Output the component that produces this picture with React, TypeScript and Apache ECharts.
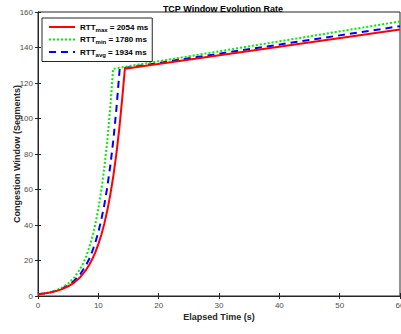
import React, { useEffect, useRef } from "react";
import * as echarts from "echarts";

const seriesNames = ["max", "min", "avg"];
const rttValues = ["2054", "1780", "1934"];
const colors = ["#ff0000", "#00ee00", "#0000ff"];

// [time (s), cwnd (segments)]
const rttMax: number[][] = [
  [0, 1], [1, 1.4], [2, 1.96], [3, 2.75], [4, 3.86], [5, 5.41], [6, 7.57], [7, 10.6],
  [8, 14.9], [8.5, 17.6], [9, 20.8], [9.5, 24.6], [10, 29.2], [10.5, 34.5], [11, 40.9],
  [11.5, 48.4], [12, 57.4], [12.5, 67.9], [13, 80.4], [13.5, 95.2], [14, 112.7],
  [14.4, 128], [60, 150.2],
];
const rttMin: number[][] = [
  [0, 1], [1, 1.48], [2, 2.18], [3, 3.22], [4, 4.75], [5, 7.01], [6, 10.35], [7, 15.3],
  [7.5, 18.6], [8, 22.5], [8.5, 27.4], [9, 33.3], [9.5, 40.4], [10, 49.1], [10.5, 59.7],
  [11, 72.5], [11.5, 88.1], [12, 107], [12.45, 128], [60, 154.7],
];
const rttAvg: number[][] = [
  [0, 1], [1, 1.43], [2, 2.05], [3, 2.93], [4, 4.19], [5, 6.0], [6, 8.59], [7, 12.3],
  [8, 17.6], [8.5, 21.0], [9, 25.2], [9.5, 30.1], [10, 36.0], [10.5, 43.1], [11, 51.5],
  [11.5, 61.7], [12, 73.8], [12.5, 88.2], [13, 105.6], [13.54, 128], [60, 152],
];
const allData = [rttMax, rttMin, rttAvg];
const lineTypes: any[] = ["solid", "dotted", [7, 5]];

const FONT = "Liberation Sans, Arial, Helvetica, sans-serif";

export default function App() {
  const ref = useRef<HTMLDivElement>(null);
  useEffect(() => {
    if (!ref.current) return;
    const chart = echarts.init(ref.current, undefined, { renderer: "svg" });
    const axisLine = { show: true, lineStyle: { color: "#262626", width: 1 } };
    const option: any = {
      animation: false,
      backgroundColor: "#ffffff",
      title: {
        text: "TCP Window Evolution Rate",
        left: 218,
        textAlign: "center",
        top: -1,
        textStyle: { fontFamily: FONT, fontWeight: "bold", fontSize: 9, color: "#000" },
      },
      grid: {
        left: 38,
        right: 1,
        top: 12,
        bottom: 38,
        outerBoundsMode: "none",
        containLabel: false,
        show: true,
        borderColor: "#262626",
        borderWidth: 1,
        backgroundColor: "transparent",
      },
      legend: {
        orient: "vertical",
        left: 42,
        top: 18,
        padding: [5, 4, 4, 6],
        itemWidth: 26,
        itemHeight: 10,
        itemGap: 3,
        backgroundColor: "#fff",
        borderColor: "#262626",
        borderWidth: 1,
        borderRadius: 0,
        itemStyle: { opacity: 0 },
        data: seriesNames,
        formatter: (name: string) => {
          const i = seriesNames.indexOf(name);
          return `{b|RTT}{s|${name}}{b| = ${rttValues[i]} ms}`;
        },
        textStyle: {
          fontFamily: FONT,
          rich: {
            b: { fontFamily: FONT, fontWeight: "bold", fontSize: 8, color: "#000" },
            s: { fontFamily: FONT, fontWeight: "bold", fontSize: 6, color: "#000", verticalAlign: "bottom", padding: [5, 0, 0, 0] },
          },
        },
      },
      xAxis: [
        {
          type: "value",
          min: 0,
          max: 60,
          interval: 10,
          name: "Elapsed Time (s)",
          nameLocation: "middle",
          nameGap: 16,
          nameMoveOverlap: false,
          nameTextStyle: { fontFamily: FONT, fontWeight: "bold", fontSize: 9, color: "#262626" },
          axisLine,
          axisTick: { show: true, inside: true, length: 3, lineStyle: { color: "#262626" } },
          axisLabel: { fontFamily: FONT, fontSize: 8, color: "#4d4d4d", margin: 5 },
          splitLine: { show: false },
        },
        {
          type: "value",
          position: "top",
          min: 0,
          max: 60,
          interval: 10,
          axisLine,
          axisTick: { show: true, inside: true, length: 3, lineStyle: { color: "#262626" } },
          axisLabel: { show: false },
          splitLine: { show: false },
        },
      ],
      yAxis: [
        {
          type: "value",
          min: 0,
          max: 160,
          interval: 20,
          name: "Congestion Window (Segments)",
          nameLocation: "middle",
          nameGap: 17,
          nameMoveOverlap: false,
          nameTextStyle: { fontFamily: FONT, fontWeight: "bold", fontSize: 9, color: "#262626" },
          axisLine,
          axisTick: { show: true, inside: true, length: 3, lineStyle: { color: "#262626" } },
          axisLabel: { fontFamily: FONT, fontSize: 8, color: "#4d4d4d", margin: 5 },
          splitLine: { show: false },
        },
        {
          type: "value",
          position: "right",
          min: 0,
          max: 160,
          interval: 20,
          axisLine,
          axisTick: { show: true, inside: true, length: 3, lineStyle: { color: "#262626" } },
          axisLabel: { show: false },
          splitLine: { show: false },
        },
      ],
      series: allData.map((d, i) => ({
        name: seriesNames[i],
        type: "line",
        data: d,
        symbol: "none",
        xAxisIndex: 0,
        yAxisIndex: 0,
        z: 3 - i,
        lineStyle: { color: colors[i], width: 2, type: lineTypes[i] },
        itemStyle: { color: colors[i] },
      })),
    };
    chart.setOption(option);
    return () => chart.dispose();
  }, []);
  return <div ref={ref} style={{ width: 401, height: 334, position: "absolute", left: 0, top: 0 }} />;
}
